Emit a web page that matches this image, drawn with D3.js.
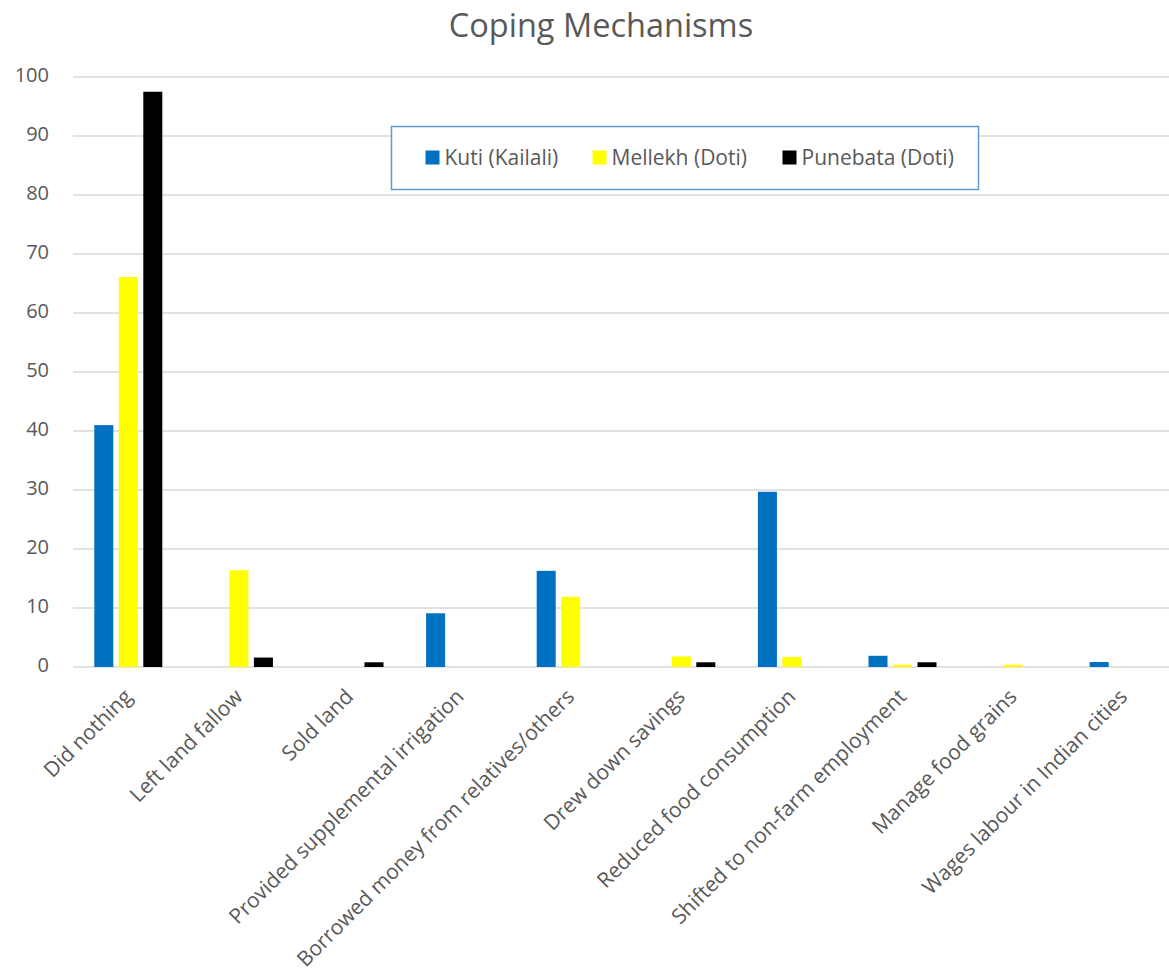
<!DOCTYPE html>
<html>
<head>
<meta charset="UTF-8">
<title>Coping Mechanisms</title>
<script src="https://cdnjs.cloudflare.com/ajax/libs/d3/7.8.5/d3.min.js"></script>
<style>
  body { margin: 0; background: #fff; }
  svg, svg text { font-family: "Open Sans", "Noto Sans", sans-serif; }
  svg { display: block; }
  .grid line { stroke: #d9d9d9; stroke-width: 1.3; }
  .tick text { fill: #595959; }
</style>
</head>
<body>
<script>
// categories and series
var categories = [
  "Did nothing",
  "Left land fallow",
  "Sold land",
  "Provided supplemental irrigation",
  "Borrowed money from relatives/others",
  "Drew down savings",
  "Reduced food consumption",
  "Shifted to non-farm employment",
  "Manage food grains",
  "Wages labour in Indian cities"
];
var seriesNames = ["Kuti (Kailali)", "Mellekh (Doti)", "Punebata (Doti)"];
var kuti     = [41.0, 0,    0,   9.1, 16.3, 0,   29.7, 1.9, 0,   0.85];
var mellekh  = [66.1, 16.4, 0,   0,   11.9, 1.8, 1.7,  0.4, 0.4, 0];
var punebata = [97.5, 1.6,  0.8, 0,   0,    0.8, 0,    0.8, 0,   0];
var seriesColors = ["#0070c0", "#ffff00", "#000000"];
var yTicks = [0, 10, 20, 30, 40, 50, 60, 70, 80, 90, 100];

var width = 1169, height = 968;
var plotLeft = 73, plotTop = 77, plotH = 590;

var svg = d3.select("body").append("svg")
    .attr("width", width)
    .attr("height", height);

svg.append("text")
    .attr("x", 601)
    .attr("y", 37)
    .attr("text-anchor", "middle")
    .attr("fill", "#595959")
    .style("font-size", "32.5px")
    .text("Coping Mechanisms");

var g = svg.append("g")
    .attr("transform", "translate(" + plotLeft + "," + plotTop + ")");

// the right end of the plot is cut off by the picture edge
var x0 = d3.scaleBand()
    .domain(categories)
    .range([0, 1106])
    .paddingInner(0.385)
    .paddingOuter(0.1925);

var x1 = d3.scaleBand()
    .domain(seriesNames)
    .range([0, x0.bandwidth()])
    .paddingInner(0.224);

var y = d3.scaleLinear()
    .domain([0, 100])
    .range([plotH, 0]);

// gridlines
g.append("g")
    .attr("class", "grid")
  .selectAll("line")
    .data(yTicks)
  .enter().append("line")
    .attr("x1", 0)
    .attr("x2", width - plotLeft)
    .attr("y1", function(d) { return y(d); })
    .attr("y2", function(d) { return y(d); });

// y axis labels
var yAxis = g.append("g")
    .call(d3.axisLeft(y).tickValues(yTicks).tickSize(0).tickPadding(24));
yAxis.attr("font-family", null).attr("font-size", null);
yAxis.select(".domain").remove();
yAxis.selectAll("text").style("font-size", "20px").attr("dy", "0.22em");

// bars
var rows = categories.map(function(c, i) {
  return {cat: c, vals: [kuti[i], mellekh[i], punebata[i]]};
});

var group = g.selectAll(".cat")
    .data(rows)
  .enter().append("g")
    .attr("class", "cat")
    .attr("transform", function(d) { return "translate(" + x0(d.cat) + ",0)"; });

group.selectAll("rect")
    .data(function(d) {
      return d.vals.map(function(v, j) { return {name: seriesNames[j], value: v, color: seriesColors[j]}; });
    })
  .enter().filter(function(d) { return d.value > 0; }).append("rect")
    .attr("x", function(d) { return x1(d.name); })
    .attr("y", function(d) { return y(d.value); })
    .attr("width", x1.bandwidth())
    .attr("height", function(d) { return y(0) - y(d.value); })
    .attr("fill", function(d) { return d.color; });

// x axis labels, rotated
var xAxis = g.append("g")
    .attr("transform", "translate(0," + y(0) + ")")
    .call(d3.axisBottom(x0).tickSize(0).tickPadding(0));
xAxis.attr("font-family", null).attr("font-size", null);
xAxis.select(".domain").remove();
xAxis.selectAll("text")
    .style("font-size", "21px")
    .attr("text-anchor", "end")
    .attr("dy", 0)
    .attr("transform", "translate(5,31) rotate(-45)");

// legend
var legend = svg.append("g")
    .attr("transform", "translate(391.5,126.5)");
legend.append("rect")
    .attr("width", 587)
    .attr("height", 63)
    .attr("fill", "#fff")
    .attr("stroke", "#5b9bd5")
    .attr("stroke-width", 1.5);

var legendX = [34, 201, 391];
var item = legend.selectAll(".item")
    .data(seriesNames)
  .enter().append("g")
    .attr("class", "item")
    .attr("transform", function(d, i) { return "translate(" + legendX[i] + ",24)"; });
item.append("rect")
    .attr("width", 14)
    .attr("height", 14)
    .attr("fill", function(d, i) { return seriesColors[i]; });
item.append("text")
    .attr("x", 19)
    .attr("y", 14)
    .attr("fill", "#595959")
    .style("font-size", "21px")
    .text(function(d) { return d; });
</script>
</body>
</html>
